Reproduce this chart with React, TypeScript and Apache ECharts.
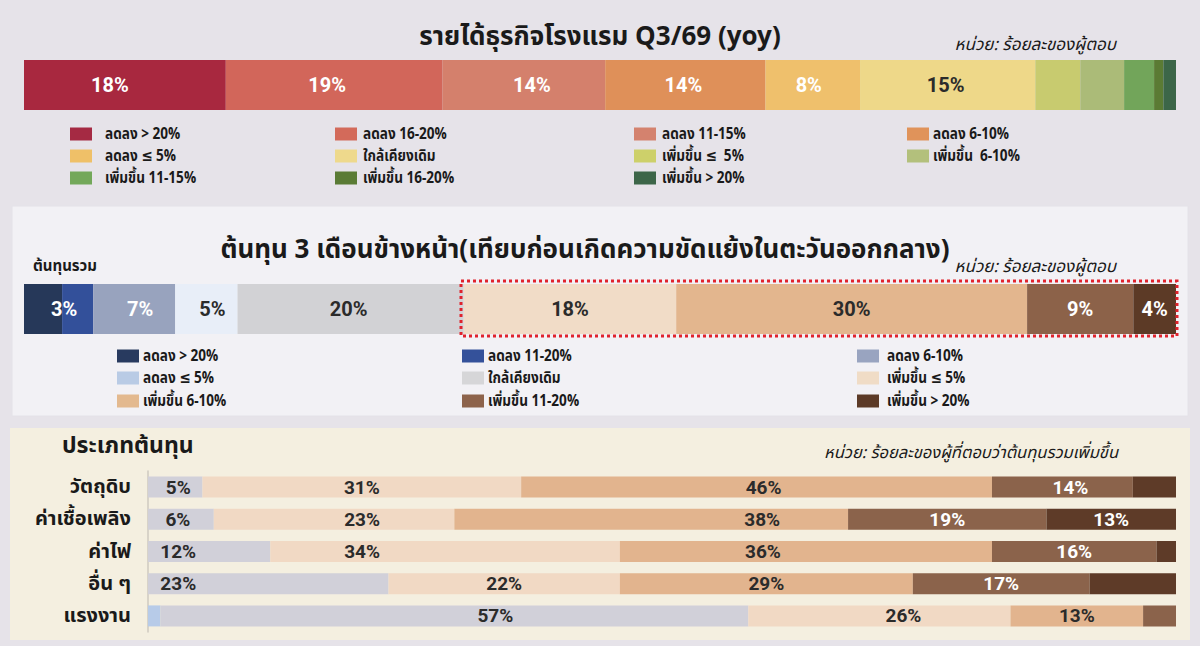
import React, { useEffect, useRef } from "react";
import * as echarts from "echarts";

// ---------- DATA ----------
const revenueTitle = "รายได้ธุรกิจโรงแรม Q3/69 (yoy)";
const revenueNames = [
  "ลดลง > 20%", "ลดลง 16-20%", "ลดลง 11-15%", "ลดลง 6-10%",
  "ลดลง ≤ 5%", "ใกล้เคียงเดิม", "เพิ่มขึ้น ≤  5%", "เพิ่มขึ้น  6-10%",
  "เพิ่มขึ้น 11-15%", "เพิ่มขึ้น 16-20%", "เพิ่มขึ้น > 20%",
];
const revenueValues = [17.5, 18.8, 14.1, 13.9, 8.2, 15.2, 3.9, 3.8, 2.6, 0.8, 1.1];
const revenueLabels = ["18%", "19%", "14%", "14%", "8%", "15%", "", "", "", "", ""];

const costTitle = "ต้นทุน 3 เดือนข้างหน้า(เทียบก่อนเกิดความขัดแย้งในตะวันออกกลาง)";
const costNames = [
  "ลดลง > 20%", "ลดลง 11-20%", "ลดลง 6-10%",
  "ลดลง ≤ 5%", "ใกล้เคียงเดิม", "เพิ่มขึ้น ≤ 5%",
  "เพิ่มขึ้น 6-10%", "เพิ่มขึ้น 11-20%", "เพิ่มขึ้น > 20%",
];
const costValues = [3.3, 2.7, 7.1, 5.4, 19.6, 18.4, 30.4, 9.2, 3.7];
const costLabels = ["3%", "", "7%", "5%", "20%", "18%", "30%", "9%", "4%"];

const typeTitle = "ประเภทต้นทุน";
const typeCategories = ["วัตถุดิบ", "ค่าเชื้อเพลิง", "ค่าไฟ", "อื่น ๆ", "แรงงาน"];
const typeNames = ["ลดลง ≤ 5%", "ใกล้เคียงเดิม", "เพิ่มขึ้น ≤ 5%", "เพิ่มขึ้น 6-10%", "เพิ่มขึ้น 11-20%", "เพิ่มขึ้น > 20%"];
const typeDown5 = [0, 0, 0, 0, 1.2];
const typeSame = [5.3, 6.4, 11.9, 23.4, 57.2];
const typeUp5 = [31.0, 23.4, 34.0, 22.5, 25.5];
const typeUp6to10 = [45.8, 38.3, 36.2, 28.5, 12.9];
const typeUp11to20 = [13.7, 19.3, 16.0, 17.2, 3.2];
const typeUp20 = [4.2, 12.6, 1.9, 8.4, 0];
const typeLabelsDown5 = ["", "", "", "", ""];
const typeLabelsSame = ["5%", "6%", "12%", "23%", "57%"];
const typeLabelsUp5 = ["31%", "23%", "34%", "22%", "26%"];
const typeLabelsUp6to10 = ["46%", "38%", "36%", "29%", "13%"];
const typeLabelsUp11to20 = ["14%", "19%", "16%", "17%", ""];
const typeLabelsUp20 = ["", "13%", "", "", ""];

const unitText = "หน่วย: ร้อยละของผู้ตอบ";
const unitTextType = "หน่วย: ร้อยละของผู้ที่ตอบว่าต้นทุนรวมเพิ่มขึ้น";
const totalLabel = "ต้นทุนรวม";

// ---------- STYLES ----------
const revenueColors = ["#a8283f", "#d2665a", "#d4806c", "#df9059", "#efc06c", "#eed889", "#c8cb6f", "#abbb78", "#72a55a", "#5b7b34", "#3c6648"];
const revenueLegendColors = ["#a52a43", "#d36a5a", "#d4826e", "#e0935a", "#efc068", "#eed98c", "#cdd06a", "#b3c07c", "#73a85a", "#5a7b35", "#3d6649"];
const revenueLabelColors = ["#fff", "#fff", "#fff", "#fff", "#fff", "#2b2b2b", "#fff", "#fff", "#fff", "#fff", "#fff"];
const revenueLabelShift = [-15, -7, 8, -2, -4, -2, 0, 0, 0, 0, 0];

const costColors = ["#263859", "#33509a", "#98a3be", "#e8eef8", "#d2d2d5", "#f1dcc7", "#e3b68e", "#8c6249", "#5c3a26"];
const costLegendColors = ["#283a5f", "#34519a", "#99a4c0", "#b9cbe5", "#d6d6d8", "#f0dcc6", "#e3b98f", "#8d634b", "#5c3a27"];
const costLabelColors = ["#fff", "#fff", "#fff", "#2b2b2b", "#2b2b2b", "#2b2b2b", "#2b2b2b", "#fff", "#fff"];
const costLabelShift = [21, 0, 6, 6, -2, 0, 0, 0, 0];

const typeColors = ["#b7cbe8", "#d1d0d9", "#f1d9c4", "#e2b48e", "#8b634b", "#5e3b28"];
const typeLabelColors = ["#2b2b2b", "#2b2b2b", "#2b2b2b", "#2b2b2b", "#fff", "#fff"];
const typeLabelShift = [
  [0, 0, 0, 0, 0],
  [3, -3, -31, -90, 41],
  [0, 28, -83, 0, 24],
  [7, 111, -43, 0, 0],
  [8, 0, 0, 0, 0],
  [0, 0, 0, 0, 0],
];

const FONT = "'Noto Sans Thai', 'Noto Sans', 'DejaVu Sans', sans-serif";
const NUMFONT = "'Liberation Sans Narrow', 'Roboto', 'Noto Sans', sans-serif";

const sum = (a: number[]) => a.reduce((s, v) => s + v, 0);

function buildOption() {
  const series: any[] = [];

  revenueValues.forEach((v, i) => {
    series.push({
      type: "bar", id: "rev" + i, name: revenueNames[i], stack: "rev",
      xAxisIndex: 0, yAxisIndex: 0, barWidth: 50,
      data: [v],
      itemStyle: { color: revenueColors[i] },
      label: {
        show: revenueLabels[i] !== "", position: "inside",
        formatter: () => revenueLabels[i],
        offset: [revenueLabelShift[i], 0],
        color: revenueLabelColors[i], fontSize: 20, fontWeight: "bold", fontFamily: NUMFONT,
      },
    });
  });

  costValues.forEach((v, i) => {
    series.push({
      type: "bar", id: "cost" + i, name: costNames[i], stack: "cost",
      xAxisIndex: 1, yAxisIndex: 1, barWidth: 50,
      data: [v],
      itemStyle: { color: costColors[i] },
      label: {
        show: costLabels[i] !== "", position: "inside",
        formatter: () => costLabels[i],
        offset: [costLabelShift[i], 0],
        color: costLabelColors[i], fontSize: 20, fontWeight: "bold", fontFamily: NUMFONT,
      },
    });
  });

  const typeData = [typeDown5, typeSame, typeUp5, typeUp6to10, typeUp11to20, typeUp20];
  const typeLabels = [typeLabelsDown5, typeLabelsSame, typeLabelsUp5, typeLabelsUp6to10, typeLabelsUp11to20, typeLabelsUp20];
  typeData.forEach((arr, i) => {
    series.push({
      type: "bar", id: "type" + i, name: typeNames[i], stack: "type",
      xAxisIndex: 2, yAxisIndex: 2, barWidth: 21,
      data: arr.map((v, j) => ({ value: v, label: { offset: [typeLabelShift[i][j], 0] } })),
      itemStyle: { color: typeColors[i] },
      label: {
        show: true, position: "inside",
        formatter: (p: any) => typeLabels[i][p.dataIndex],
        color: typeLabelColors[i], fontSize: 19, fontWeight: "bold", fontFamily: NUMFONT,
      },
    });
  });

  const graphic: any[] = [];
  graphic.push({ type: "rect", z: -10, shape: { x: 12, y: 206, width: 1176, height: 210 }, style: { fill: "#f2f1f5", stroke: "#e4e2e8", lineWidth: 1 } });
  graphic.push({ type: "rect", z: -10, shape: { x: 10, y: 428, width: 1180, height: 212 }, style: { fill: "#f4efe0" } });

  graphic.push({ type: "text", z: 50, style: { text: revenueTitle, x: 600, y: 37, align: "center", verticalAlign: "middle", fontSize: 26, fontWeight: "bold", fontFamily: FONT, fill: "#1a1a1a" } });
  graphic.push({ type: "text", z: 50, style: { text: unitText, x: 1116, y: 45, align: "right", verticalAlign: "middle", fontSize: 17, fontStyle: "italic", fontFamily: FONT, fill: "#1a1a1a" } });
  graphic.push({ type: "text", z: 50, style: { text: costTitle, x: 585, y: 250, align: "center", verticalAlign: "middle", fontSize: 26, fontWeight: "bold", fontFamily: FONT, fill: "#1a1a1a" } });
  graphic.push({ type: "text", z: 50, style: { text: unitText, x: 1116, y: 267, align: "right", verticalAlign: "middle", fontSize: 17, fontStyle: "italic", fontFamily: FONT, fill: "#1a1a1a" } });
  graphic.push({ type: "text", z: 50, style: { text: totalLabel, x: 33, y: 266, align: "left", verticalAlign: "middle", fontSize: 15, fontWeight: "bold", fontFamily: FONT, fill: "#1a1a1a" } });
  graphic.push({ type: "text", z: 50, style: { text: typeTitle, x: 62, y: 446, align: "left", verticalAlign: "middle", fontSize: 23, fontWeight: "bold", fontFamily: FONT, fill: "#1a1a1a" } });
  graphic.push({ type: "text", z: 50, style: { text: unitTextType, x: 1118, y: 452, align: "right", verticalAlign: "middle", fontSize: 16.5, fontStyle: "italic", fontFamily: FONT, fill: "#1a1a1a" } });

  graphic.push({ type: "rect", z: 100, shape: { x: 461, y: 281, width: 716, height: 55 }, style: { fill: "none", stroke: "#e0232c", lineWidth: 3, lineDash: [3, 3] } });

  const revSwatchX = [70, 335, 634, 907];
  const revTextX = [105, 363, 662, 933];
  const revRowY = [134, 156, 178];
  revenueNames.forEach((n, i) => {
    const c = i % 4, r = Math.floor(i / 4);
    graphic.push({ type: "rect", z: 50, shape: { x: revSwatchX[c], y: revRowY[r] - 6.5, width: 22, height: 13 }, style: { fill: revenueLegendColors[i] } });
    graphic.push({ type: "text", z: 50, x: revTextX[c], y: revRowY[r], scaleX: 0.85, style: { text: n, x: 0, y: 0, verticalAlign: "middle", fontSize: 16, fontWeight: "bold", fontFamily: FONT, fill: "#1a1a1a" } });
  });

  const costSwatchX = [117, 462, 857];
  const costTextX = [143, 488, 887];
  const costRowY = [356, 378, 401];
  costNames.forEach((n, i) => {
    const c = i % 3, r = Math.floor(i / 3);
    graphic.push({ type: "rect", z: 50, shape: { x: costSwatchX[c], y: costRowY[r] - 6.5, width: 22, height: 13 }, style: { fill: costLegendColors[i] } });
    graphic.push({ type: "text", z: 50, x: costTextX[c], y: costRowY[r], scaleX: 0.85, style: { text: n, x: 0, y: 0, verticalAlign: "middle", fontSize: 16, fontWeight: "bold", fontFamily: FONT, fill: "#1a1a1a" } });
  });

  return {
    animation: false,
    backgroundColor: "#e6e3e9",
    grid: [
      { left: 24, top: 60, width: 1152, height: 50 },
      { left: 24, top: 284, width: 1152, height: 50 },
      { left: 148, top: 471, width: 1028, height: 161 },
    ],
    xAxis: [
      { type: "value", gridIndex: 0, min: 0, max: sum(revenueValues), show: false },
      { type: "value", gridIndex: 1, min: 0, max: sum(costValues), show: false },
      { type: "value", gridIndex: 2, min: 0, max: 100, show: false },
    ],
    yAxis: [
      { type: "category", gridIndex: 0, data: ["rev"], show: false },
      { type: "category", gridIndex: 1, data: ["cost"], show: false },
      {
        type: "category", gridIndex: 2, data: typeCategories, inverse: true,
        axisLine: { show: true, lineStyle: { color: "#cfcac0", width: 1.5 } },
        axisTick: { show: false }, splitLine: { show: false },
        axisLabel: { margin: 17, fontSize: 20, fontWeight: "bold", fontFamily: FONT, color: "#1a1a1a" },
      },
    ],
    series,
    graphic,
  };
}

export default function App() {
  const ref = useRef<HTMLDivElement>(null);
  useEffect(() => {
    const chart = echarts.init(ref.current!, null, { renderer: "svg" });
    chart.setOption(buildOption() as any);
    return () => chart.dispose();
  }, []);
  return <div ref={ref} style={{ position: "fixed", left: 0, top: 0, width: 1200, height: 646 }} />;
}
